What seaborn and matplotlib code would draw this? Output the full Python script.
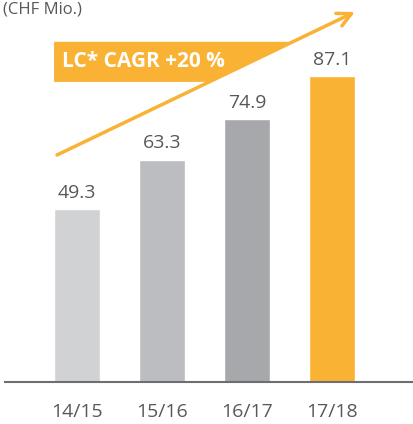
import numpy as np
import pandas as pd
import matplotlib.pyplot as plt
import seaborn as sns

# data
years = ['14/15', '15/16', '16/17', '17/18']
revenue = [49.3, 63.3, 74.9, 87.1]
bar_colors = ['#D1D2D4', '#BCBDC0', '#A7A8AB', '#F9B233']
unit_label = '(CHF Mio.)'
cagr_label = 'LC* CAGR +20 %'

orange = '#F9B233'
text_grey = '#58585A'

sns.set_style('white')
plt.rcParams['font.family'] = ['Open Sans', 'DejaVu Sans']

df = pd.DataFrame({'year': years, 'revenue': revenue})

fig = plt.figure(figsize=(4.14, 4.24), dpi=100)
ax = fig.add_axes([5 / 414, 42 / 424, 409 / 414, 382 / 424])

sns.barplot(data=df, x='year', y='revenue', hue='year', palette=bar_colors,
            order=years, hue_order=years, width=0.54, legend=False,
            saturation=1, ax=ax)

ax.set_xlim(-0.847, 3.965)
ax.set_ylim(0, 108.7)

# value labels
for i, v in enumerate(revenue):
    ax.annotate(f'{v:.1f}', (i, v), xytext=(0, 8), textcoords='offset points',
                ha='center', va='baseline', fontsize=14, color=text_grey)

# growth arrow
x0, y0, x1, y1 = -0.235, 64.6, 3.27, 105.3
ax.annotate('', xy=(x1, y1), xytext=(x0, y0),
            arrowprops=dict(arrowstyle='->,head_length=1.0,head_width=0.5',
                            color=orange, lw=2.5, shrinkA=0, shrinkB=0))

# banner bounded on the right by the arrow line
def line_x(y):
    return x0 + (y - y0) * (x1 - x0) / (y1 - y0)

b_lo, b_hi, b_left = 85.4, 96.8, -0.27
ax.fill([b_left, b_left, line_x(b_hi), line_x(b_lo)],
        [b_lo, b_hi, b_hi, b_lo], color=orange, lw=0, zorder=1)
ax.text(-0.18, 91.1, cagr_label, ha='left', va='center', fontsize=15,
        fontweight='bold', color='white', zorder=3)

# axes styling
sns.despine(ax=ax, left=True, top=True, right=True, bottom=False)
ax.spines['bottom'].set_color('#6D6E71')
ax.spines['bottom'].set_linewidth(1.5)
ax.set_yticks([])
ax.set_xlabel('')
ax.set_ylabel('')
ax.tick_params(axis='x', length=0, pad=15, labelsize=14, labelcolor=text_grey)

fig.text(3 / 414, 1 - 13 / 424, unit_label, ha='left', va='baseline',
         fontsize=12, color=text_grey)

fig.savefig('out.png', dpi=100)
